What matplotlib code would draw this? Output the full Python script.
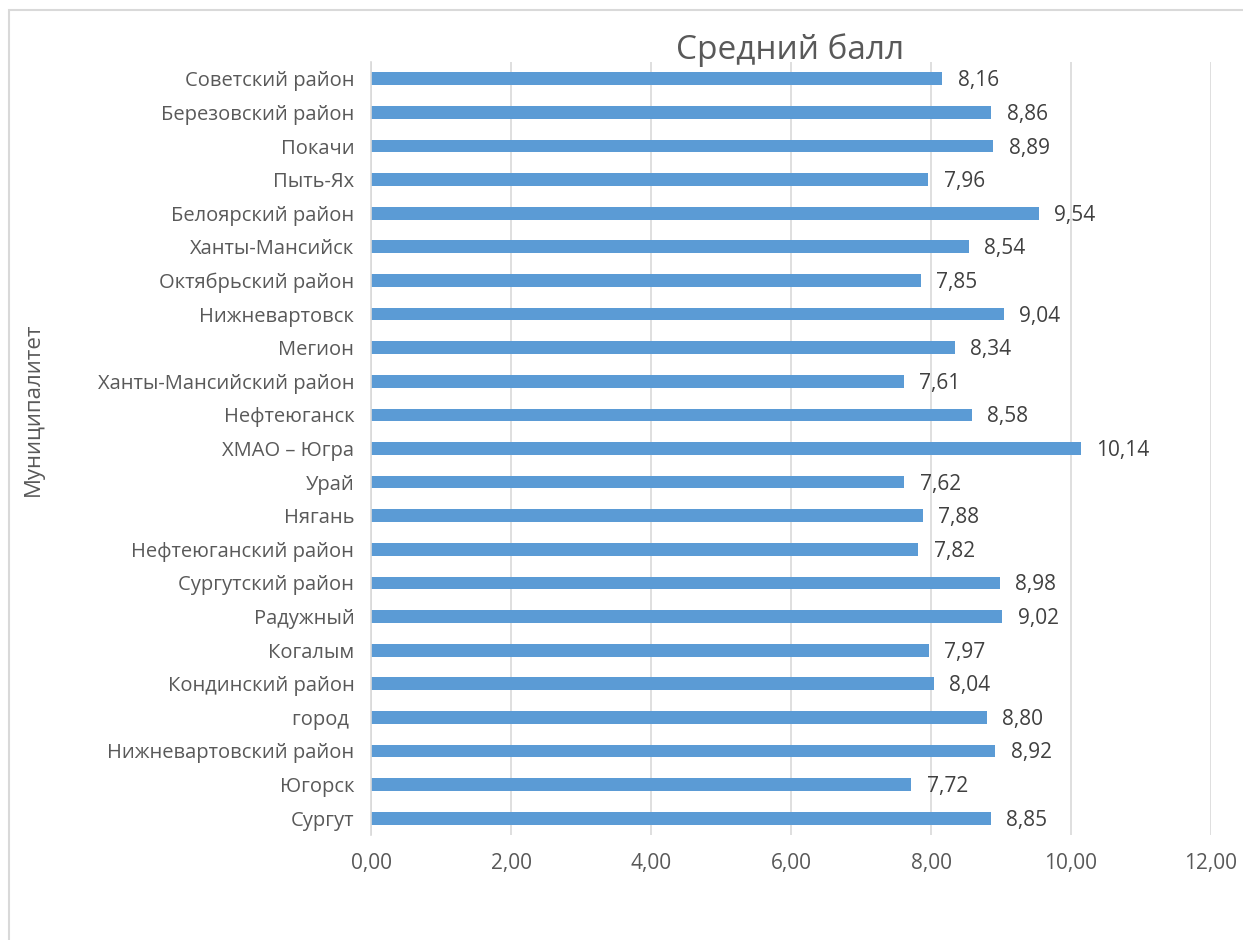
import matplotlib.pyplot as plt
from matplotlib.patches import Rectangle
from matplotlib.ticker import FuncFormatter

plt.rcParams['font.family'] = ['Open Sans', 'DejaVu Sans']

places = ['Советский район', 'Березовский район', 'Покачи', 'Пыть-Ях',
          'Белоярский район', 'Ханты-Мансийск', 'Октябрьский район',
          'Нижневартовск', 'Мегион', 'Ханты-Мансийский район', 'Нефтеюганск',
          'ХМАО – Югра', 'Урай', 'Нягань', 'Нефтеюганский район',
          'Сургутский район', 'Радужный', 'Когалым', 'Кондинский район',
          'город ', 'Нижневартовский район', 'Югорск', 'Сургут']
scores = [8.16, 8.86, 8.89, 7.96, 9.54, 8.54, 7.85, 9.04, 8.34, 7.61, 8.58,
          10.14, 7.62, 7.88, 7.82, 8.98, 9.02, 7.97, 8.04, 8.80, 8.92, 7.72,
          8.85]

W, H = 1243, 940
fig = plt.figure(figsize=(W / 100, H / 100), dpi=100)
ax = fig.add_axes([371 / W, 1 - 835 / H, (1211 - 371) / W, (835 - 62) / H])

grey = '#595959'
ypos = list(range(len(places)))[::-1]
ax.barh(ypos, scores, height=0.38, color='#5b9bd5', zorder=2)
for y, v in zip(ypos, scores):
    ax.text(v + 0.22, y - 0.06, f'{v:.2f}'.replace('.', ','), va='center',
            ha='left', fontsize=15, color='#404040')

ax.set_xlim(0, 12)
ax.set_ylim(-0.5, len(places) - 0.5)
ax.set_xticks(range(0, 13, 2))
ax.xaxis.set_major_formatter(FuncFormatter(lambda x, p: f'{x:.2f}'.replace('.', ',')))
ax.set_yticks(ypos)
ax.set_yticklabels(places)
ax.tick_params(length=0, labelsize=14.5, labelcolor=grey)
ax.tick_params(axis='x', labelsize=15, pad=13)
ax.tick_params(axis='y', pad=12)
ax.grid(axis='x', color='#d9d9d9', linewidth=1.2, zorder=0)
for s in ['top', 'right', 'bottom']:
    ax.spines[s].set_visible(False)
ax.spines['left'].set_color('#d9d9d9')
ax.spines['left'].set_linewidth(1.2)

fig.text(790 / W, 1 - 50 / H, 'Средний балл', ha='center', va='center',
         fontsize=24, color=grey)
fig.text(33 / W, 1 - 409 / H, 'Муниципалитет', rotation=90, ha='center',
         va='center', fontsize=16, color=grey)

fig.patches.append(Rectangle((9 / W, -0.1), 1.2, 1 - 10.5 / H + 0.1,
                             transform=fig.transFigure, fill=False,
                             edgecolor='#d9d9d9', linewidth=1.5))

fig.savefig('out.png', dpi=100)
